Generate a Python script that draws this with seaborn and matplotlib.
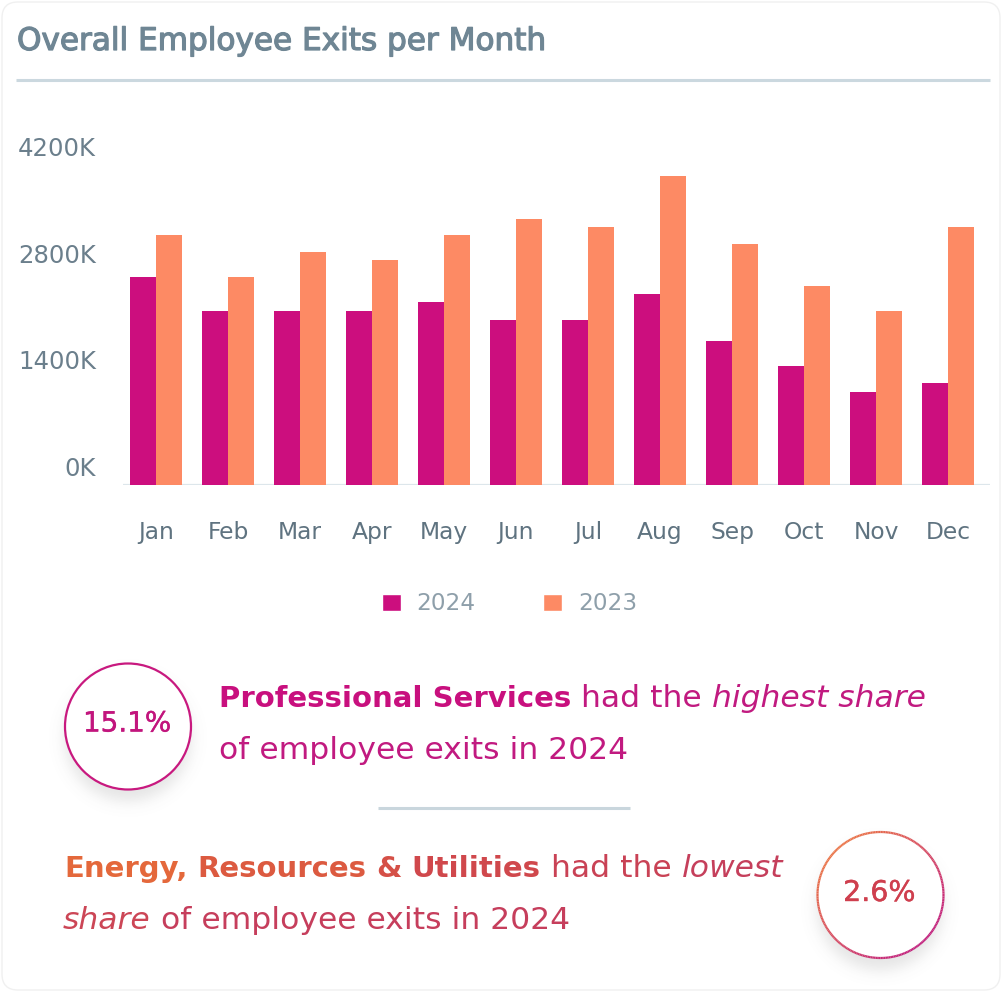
import numpy as np
import pandas as pd
import matplotlib
matplotlib.use('Agg')
import matplotlib.pyplot as plt
import matplotlib.patheffects as pe
import seaborn as sns
from matplotlib.patches import Circle, FancyBboxPatch, Patch
from matplotlib.collections import LineCollection
from matplotlib.transforms import offset_copy

# data
months = ['Jan', 'Feb', 'Mar', 'Apr', 'May', 'Jun', 'Jul', 'Aug', 'Sep', 'Oct', 'Nov', 'Dec']
exits_2024 = [2720, 2280, 2280, 2280, 2390, 2160, 2160, 2500, 1880, 1550, 1220, 1330]
exits_2023 = [3270, 2720, 3050, 2940, 3270, 3490, 3380, 4050, 3160, 2600, 2270, 3380]
years = ['2024', '2023']
year_colors = ['#cc0e7e', '#fd8a64']
y_ticks = [0, 1400, 2800, 4200]
y_tick_labels = ['0K', '1400K', '2800K', '4200K']

df = pd.DataFrame({
    'month': months * 2,
    'exits': exits_2024 + exits_2023,
    'year': [years[0]] * 12 + [years[1]] * 12,
})

sns.set_style('white')
plt.rcParams['font.family'] = ['DejaVu Sans']

W, H = 1002, 992
fig = plt.figure(figsize=(W / 100, H / 100), dpi=100, facecolor='white')

# background axes in pixel coordinates for the card decorations
ax_bg = fig.add_axes([0, 0, 1, 1], zorder=0)
ax_bg.set_xlim(0, W)
ax_bg.set_ylim(H, 0)
ax_bg.axis('off')
ax_bg.add_patch(FancyBboxPatch((2, 2), W - 4, H - 4, boxstyle='round,pad=0,rounding_size=16',
                               fc='white', ec='#f0f0f0', lw=1))

title_col = '#6f8694'
ax_bg.text(17, 50, 'Overall Employee Exits per Month', fontsize=22.4, color=title_col,
           va='baseline', ha='left',
           path_effects=[pe.withStroke(linewidth=0.9, foreground=title_col)])
ax_bg.plot([16, 990], [80, 80], color='#cbd8df', lw=2.2, solid_capstyle='butt')
ax_bg.plot([378, 630], [808, 808], color='#c9d6dd', lw=2.2, solid_capstyle='butt')

# bar chart
ax = fig.add_axes([123 / W, 1 - 484.5 / H, 867 / W, (484.5 - 164.4) / H], zorder=2)
ax.patch.set_alpha(0)
sns.barplot(data=df, x='month', y='exits', hue='year', hue_order=years, palette=year_colors,
            width=0.71, linewidth=0, saturation=1, legend=False, ax=ax)
ax.set_ylim(0, 4200)
ax.set_xlim(-0.458, 11.583)
sns.despine(ax=ax, left=True, bottom=True, top=True, right=True)
ax.axhline(0, color='#dde6eb', lw=1.6, zorder=0.5)
ax.set_xlabel('')
ax.set_ylabel('')
ax.set_yticks([])
ax.set_xticks(range(len(months)), labels=months)
ax.tick_params(axis='x', length=0, pad=26.5, labelsize=16.8, labelcolor='#5f7380')

ylab_tr = offset_copy(ax.get_yaxis_transform(), fig=fig, x=-27, y=8.5, units='dots')
for v, lbl in zip(y_ticks, y_tick_labels):
    ax.text(0, v, lbl, transform=ylab_tr, ha='right', va='baseline', fontsize=17.6, color='#6b7f8c')

fig.legend(handles=[Patch(facecolor=c, label=y) for y, c in zip(years, year_colors)],
           loc='center', bbox_to_anchor=(509.5 / W, 1 - 604 / H), ncol=2, frameon=False,
           fontsize=16.7, handlelength=0.8, handleheight=0.7, handletextpad=0.7,
           columnspacing=2.9, labelcolor='#8e9faa')

# circles with soft shadow
def shadow(cx, cy, r, dy=12, sigma=9, amax=0.16):
    R = r + 40
    xs = np.linspace(cx - R, cx + R, 200)
    ys = np.linspace(cy - R, cy + R, 200)
    X, Y = np.meshgrid(xs, ys)
    d = np.hypot(X - cx, Y - (cy + dy))
    a = amax * 0.5 * (1 - np.tanh((d - r) / sigma))
    img = np.zeros((200, 200, 4))
    img[..., :3] = 0.35
    img[..., 3] = a
    ax_bg.imshow(img, extent=(cx - R, cx + R, cy + R, cy - R), origin='upper',
                 interpolation='bilinear', aspect='auto', zorder=1)

c1 = (128, 726.5)
c2 = (880.5, 895)
rad = 63
shadow(*c1, rad)
shadow(*c2, rad)
ax_bg.add_patch(Circle(c1, rad, fc='white', ec='#c8197f', lw=1.6, zorder=2))
ax_bg.add_patch(Circle(c2, rad, fc='white', ec='none', zorder=2))

theta = np.linspace(0, 2 * np.pi, 241)
px = c2[0] + rad * np.cos(theta)
py = c2[1] + rad * np.sin(theta)
segs = [[(px[i], py[i]), (px[i + 1], py[i + 1])] for i in range(len(theta) - 1)]
tmid = ((np.cos(theta[:-1]) + np.sin(theta[:-1])) / np.sqrt(2) + 1) / 2
c_start = np.array(matplotlib.colors.to_rgb('#ea7448'))
c_end = np.array(matplotlib.colors.to_rgb('#c2217d'))
cols = [tuple(c_start + (c_end - c_start) * t) for t in tmid]
ax_bg.add_collection(LineCollection(segs, colors=cols, linewidths=1.6, zorder=3))
ax_bg.set_xlim(0, W)
ax_bg.set_ylim(H, 0)

ax_bg.text(c1[0] - 1, c1[1] - 3, '15.1%', fontsize=20, color='#c2157d', ha='center', va='center',
           zorder=4, path_effects=[pe.withStroke(linewidth=0.3, foreground='#c2157d')])
ax_bg.text(c2[0] - 1, c2[1] - 2, '2.6%', fontsize=20.5, color='#cf3f4e', ha='center', va='center',
           zorder=4, path_effects=[pe.withStroke(linewidth=0.3, foreground='#cf3f4e')])

# rich text lines
renderer = fig.canvas.get_renderer()
BODY = 22.6
BOLD = 21.0


def width_of(s, **kw):
    t = ax_bg.text(0, 0, s, fontsize=BODY, **kw)
    w = t.get_window_extent(renderer=renderer).width
    t.remove()
    return w


space_w = width_of('n n') - width_of('nn')


def draw_line(x, y, runs):
    for s, weight, style, color in runs:
        size = BOLD if weight == 'bold' else BODY
        t = ax_bg.text(x, y, s, fontsize=size, fontweight=weight, fontstyle=style,
                       color=color, ha='left', va='baseline', zorder=4)
        x += t.get_window_extent(renderer=renderer).width + space_w


mag_b = '#c8107e'
mag = '#c11a80'
draw_line(219, 707, [('Professional Services', 'bold', 'normal', mag_b),
                     ('had the', 'normal', 'normal', mag),
                     ('highest share', 'normal', 'italic', mag)])
draw_line(219, 759, [('of employee exits in 2024', 'normal', 'normal', mag)])

draw_line(64, 877, [('Energy,', 'bold', 'normal', '#e4683b'),
                    ('Resources', 'bold', 'normal', '#dc5a40'),
                    ('&', 'bold', 'normal', '#d55047'),
                    ('Utilities', 'bold', 'normal', '#d0484c'),
                    ('had the', 'normal', 'normal', '#c94255'),
                    ('lowest', 'normal', 'italic', '#c53f5b')])
draw_line(63, 929, [('share', 'normal', 'italic', '#cc4656'),
                    ('of employee exits in 2024', 'normal', 'normal', '#c63e5c')])

fig.savefig('out.png', dpi=100, facecolor='white')
